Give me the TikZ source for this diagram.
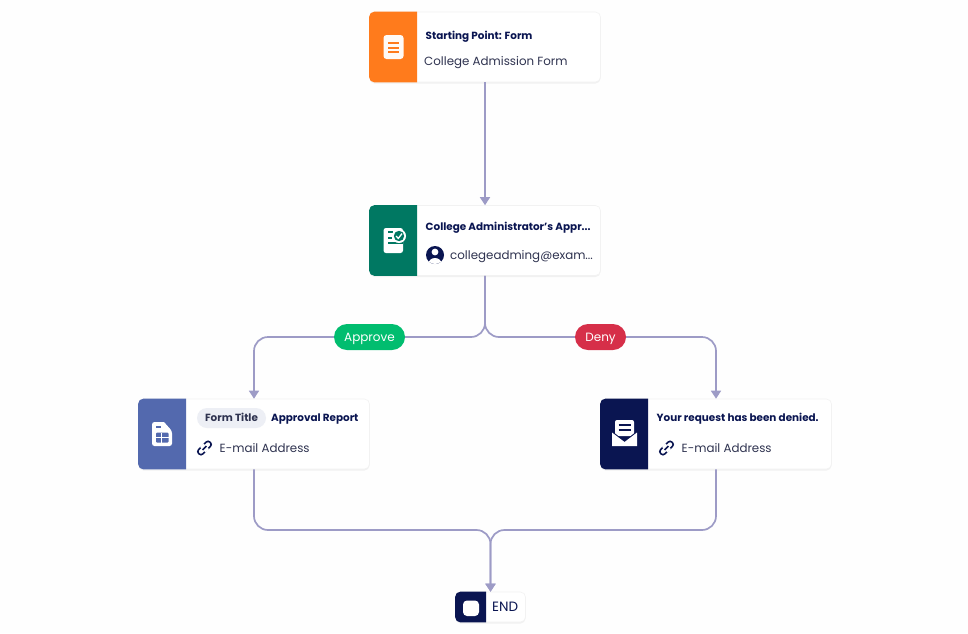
\documentclass[tikz,border=0pt]{standalone}
\usepackage{fontspec}
\setmainfont{Poppins}
\usepackage{xcolor}
\usetikzlibrary{arrows.meta,positioning,calc,shadows}
\definecolor{navy}{HTML}{0A1551}
\definecolor{inkgray}{HTML}{2F3350}
\definecolor{wire}{HTML}{9D9BC6}
\definecolor{paper}{HTML}{FEFEFE}
\definecolor{tabOrange}{HTML}{FF7B1C}
\definecolor{tabGreen}{HTML}{007862}
\definecolor{tabBlue}{HTML}{5369AE}
\definecolor{okGreen}{HTML}{01BD6F}
\definecolor{noRed}{HTML}{D62F49}
\definecolor{pillGray}{HTML}{EDEFF5}

\begin{document}
\begin{tikzpicture}[x=1pt, y=-1pt,
    card/.style={draw=black!5, fill=white, rounded corners=5pt, minimum width=231pt,
                 minimum height=70pt, inner sep=0pt, line width=0.6pt,
                 drop shadow={opacity=.10, shadow xshift=0pt, shadow yshift=-1.5pt}},
    endcard/.style={card, minimum width=70pt, minimum height=30pt},
    head/.style={anchor=west, inner sep=0pt, text height=8pt, text depth=2pt,
                 font=\fontsize{10.4}{12}\selectfont\bfseries, text=navy},
    body/.style={anchor=west, inner sep=0pt, text height=9pt, text depth=3pt,
                 font=\fontsize{11.85}{14}\selectfont, text=inkgray},
    tag/.style={rounded corners=13pt, minimum height=26pt, inner sep=0pt, text=white,
                text height=11pt, text depth=2pt, font=\fontsize{12}{14}\selectfont},
    arr/.style={-{Triangle[length=8pt, width=10pt]}, line width=1.7pt, draw=wire},
    curvedarr/.style={arr, rounded corners=14pt},
    linkicon/.pic={
        \draw[navy, line width=1.6pt, rotate=45, rounded corners=2.6pt]
            (-8,-3) rectangle (1,3);
        \draw[navy, line width=1.6pt, rotate=45, rounded corners=2.6pt]
            (-1,-3) rectangle (8,3);
        \fill[white, rotate=45] (-2.4,-4) rectangle (2.4,4);
        \draw[navy, line width=1.6pt, rotate=45] (-2.8,0) -- (2.8,0);
    }
]
    \useasboundingbox[fill=paper] (0,0) rectangle (968,633);

    % Cards
    \node[card] (start)    at (485, 47) {};
    \node[card] (approval) at (485, 240.5) {};
    \node[card] (report)   at (254, 434) {};
    \node[card] (denied)   at (716, 434) {};
    \node[endcard] (finish) at (490.5, 607) {};

    % Coloured tabs
    \foreach \card/\col/\wd in {start/tabOrange/48, approval/tabGreen/48, report/tabBlue/48,
                                denied/navy/48, finish/navy/31}
        \fill[\col] ($(\card.north west)+(\wd,0)$) [rounded corners=5pt] -- (\card.north west)
            -- (\card.south west) [sharp corners] -- ($(\card.south west)+(\wd,0)$) -- cycle;

    % Form icon
    \fill[white!96!tabOrange, rounded corners=3pt] (383.5,35) rectangle (403.5,59);
    \foreach \y in {43,47.5,52}
        \draw[tabOrange, line width=2pt] (388,\y) -- (399,\y);

    % Approval icon
    \fill[white, rounded corners=2.5pt] (383.5,228) rectangle (403,253);
    \draw[tabGreen, line width=1.2pt] (388,232) -- (393,232) (388,238) -- (392,238)
        (388,243) -- (403,243);
    \fill[white] (399,236) circle (7pt);
    \fill[tabGreen] (399,236) circle (5.2pt);
    \draw[white, line width=1.3pt] (396,236) -- (398.3,238.4) -- (402,233.6);

    % Report icon
    \fill[white] (154,422) [rounded corners=2.5pt] -- (152,422) -- (152,446) -- (172,446)
        -- (172,431) [sharp corners] -- (164,422) -- cycle;
    \draw[tabBlue, line width=1.3pt] (156,427) -- (161,427);
    \fill[tabBlue, rounded corners=1pt] (156,432.5) rectangle (168.5,442.5);
    \draw[white, line width=1pt] (156,437.5) -- (168.5,437.5) (161,432.5) -- (161,442.5);

    % Envelope icon
    \fill[white, rounded corners=2pt] (615,420) rectangle (634,436);
    \fill[navy] (612,431) -- (624.5,441) -- (637,431) -- (637,440) -- (612,440) -- cycle;
    \fill[white] (612,432.5) -- (624.5,442) -- (637,432.5) -- (637,446) -- (612,446) -- cycle;
    \draw[navy, line width=1.4pt] (618.5,425) -- (630.5,425) (618.5,430) -- (630.5,430);

    % End icon
    \fill[white, rounded corners=4pt] (463,600.5) rectangle (479,616);

    % Person icon
    \fill[navy] (435,255) circle (9pt);
    \fill[white] (435,252) circle (3.4pt);
    \begin{scope}
        \clip (435,255) circle (9pt);
        \fill[white] (435,263.5) ellipse (6.4pt and 5.5pt);
    \end{scope}

    % Link icons
    \pic at (204.5,448) {linkicon};
    \pic at (666.5,448) {linkicon};

    % Texts
    \node[head] (startHead) at (425.5,36.3) {Starting Point: Form};
    \node[body] (startBody) at (424,62.3) {College Admission Form};
    \node[head] (approvalHead) at (425.5,227) {College Administrator's Appr...};
    \node[body] (approvalBody) at (450,256.3) {collegeadming@exam...};
    \node[fill=pillGray, rounded corners=10pt, minimum width=69pt, minimum height=20pt,
          inner sep=0pt, text height=8pt, text depth=2pt,
          font=\fontsize{10.4}{12}\selectfont\bfseries, text=inkgray]
          (titleTag) at (231.5,418) {Form Title};
    \node[head] (reportHead) at (271,418.7) {Approval Report};
    \node[body] (reportBody) at (219.5,449.3) {E-mail Address};
    \node[head] (deniedHead) at (656.5,418.7) {Your request has been denied.};
    \node[body] (deniedBody) at (681.5,449.3) {E-mail Address};
    \node[anchor=west, inner sep=0pt, text height=9pt, text depth=3pt,
          font=\fontsize{13.5}{14}\selectfont, text=navy]
          (finishText) at (492,608.7) {END};

    % Arrows
    \coordinate (split) at (485,337);
    \coordinate (merge) at (490.5,530);
    \draw[arr] (start) -- (approval);
    \draw[curvedarr] (approval.south) -- (split) -| (report.north);
    \draw[curvedarr] (approval.south) -- (split) -| (denied.north);
    \draw[curvedarr] (report.south) |- (merge) -- (finish.north);
    \draw[curvedarr] (denied.south) |- (merge) -- (finish.north);

    % Labels
    \node[tag, fill=okGreen, minimum width=71pt] (approveTag) at (369.5,337) {Approve};
    \node[tag, fill=noRed, minimum width=51pt] (denyTag) at (600.5,337) {Deny};
\end{tikzpicture}
\end{document}
